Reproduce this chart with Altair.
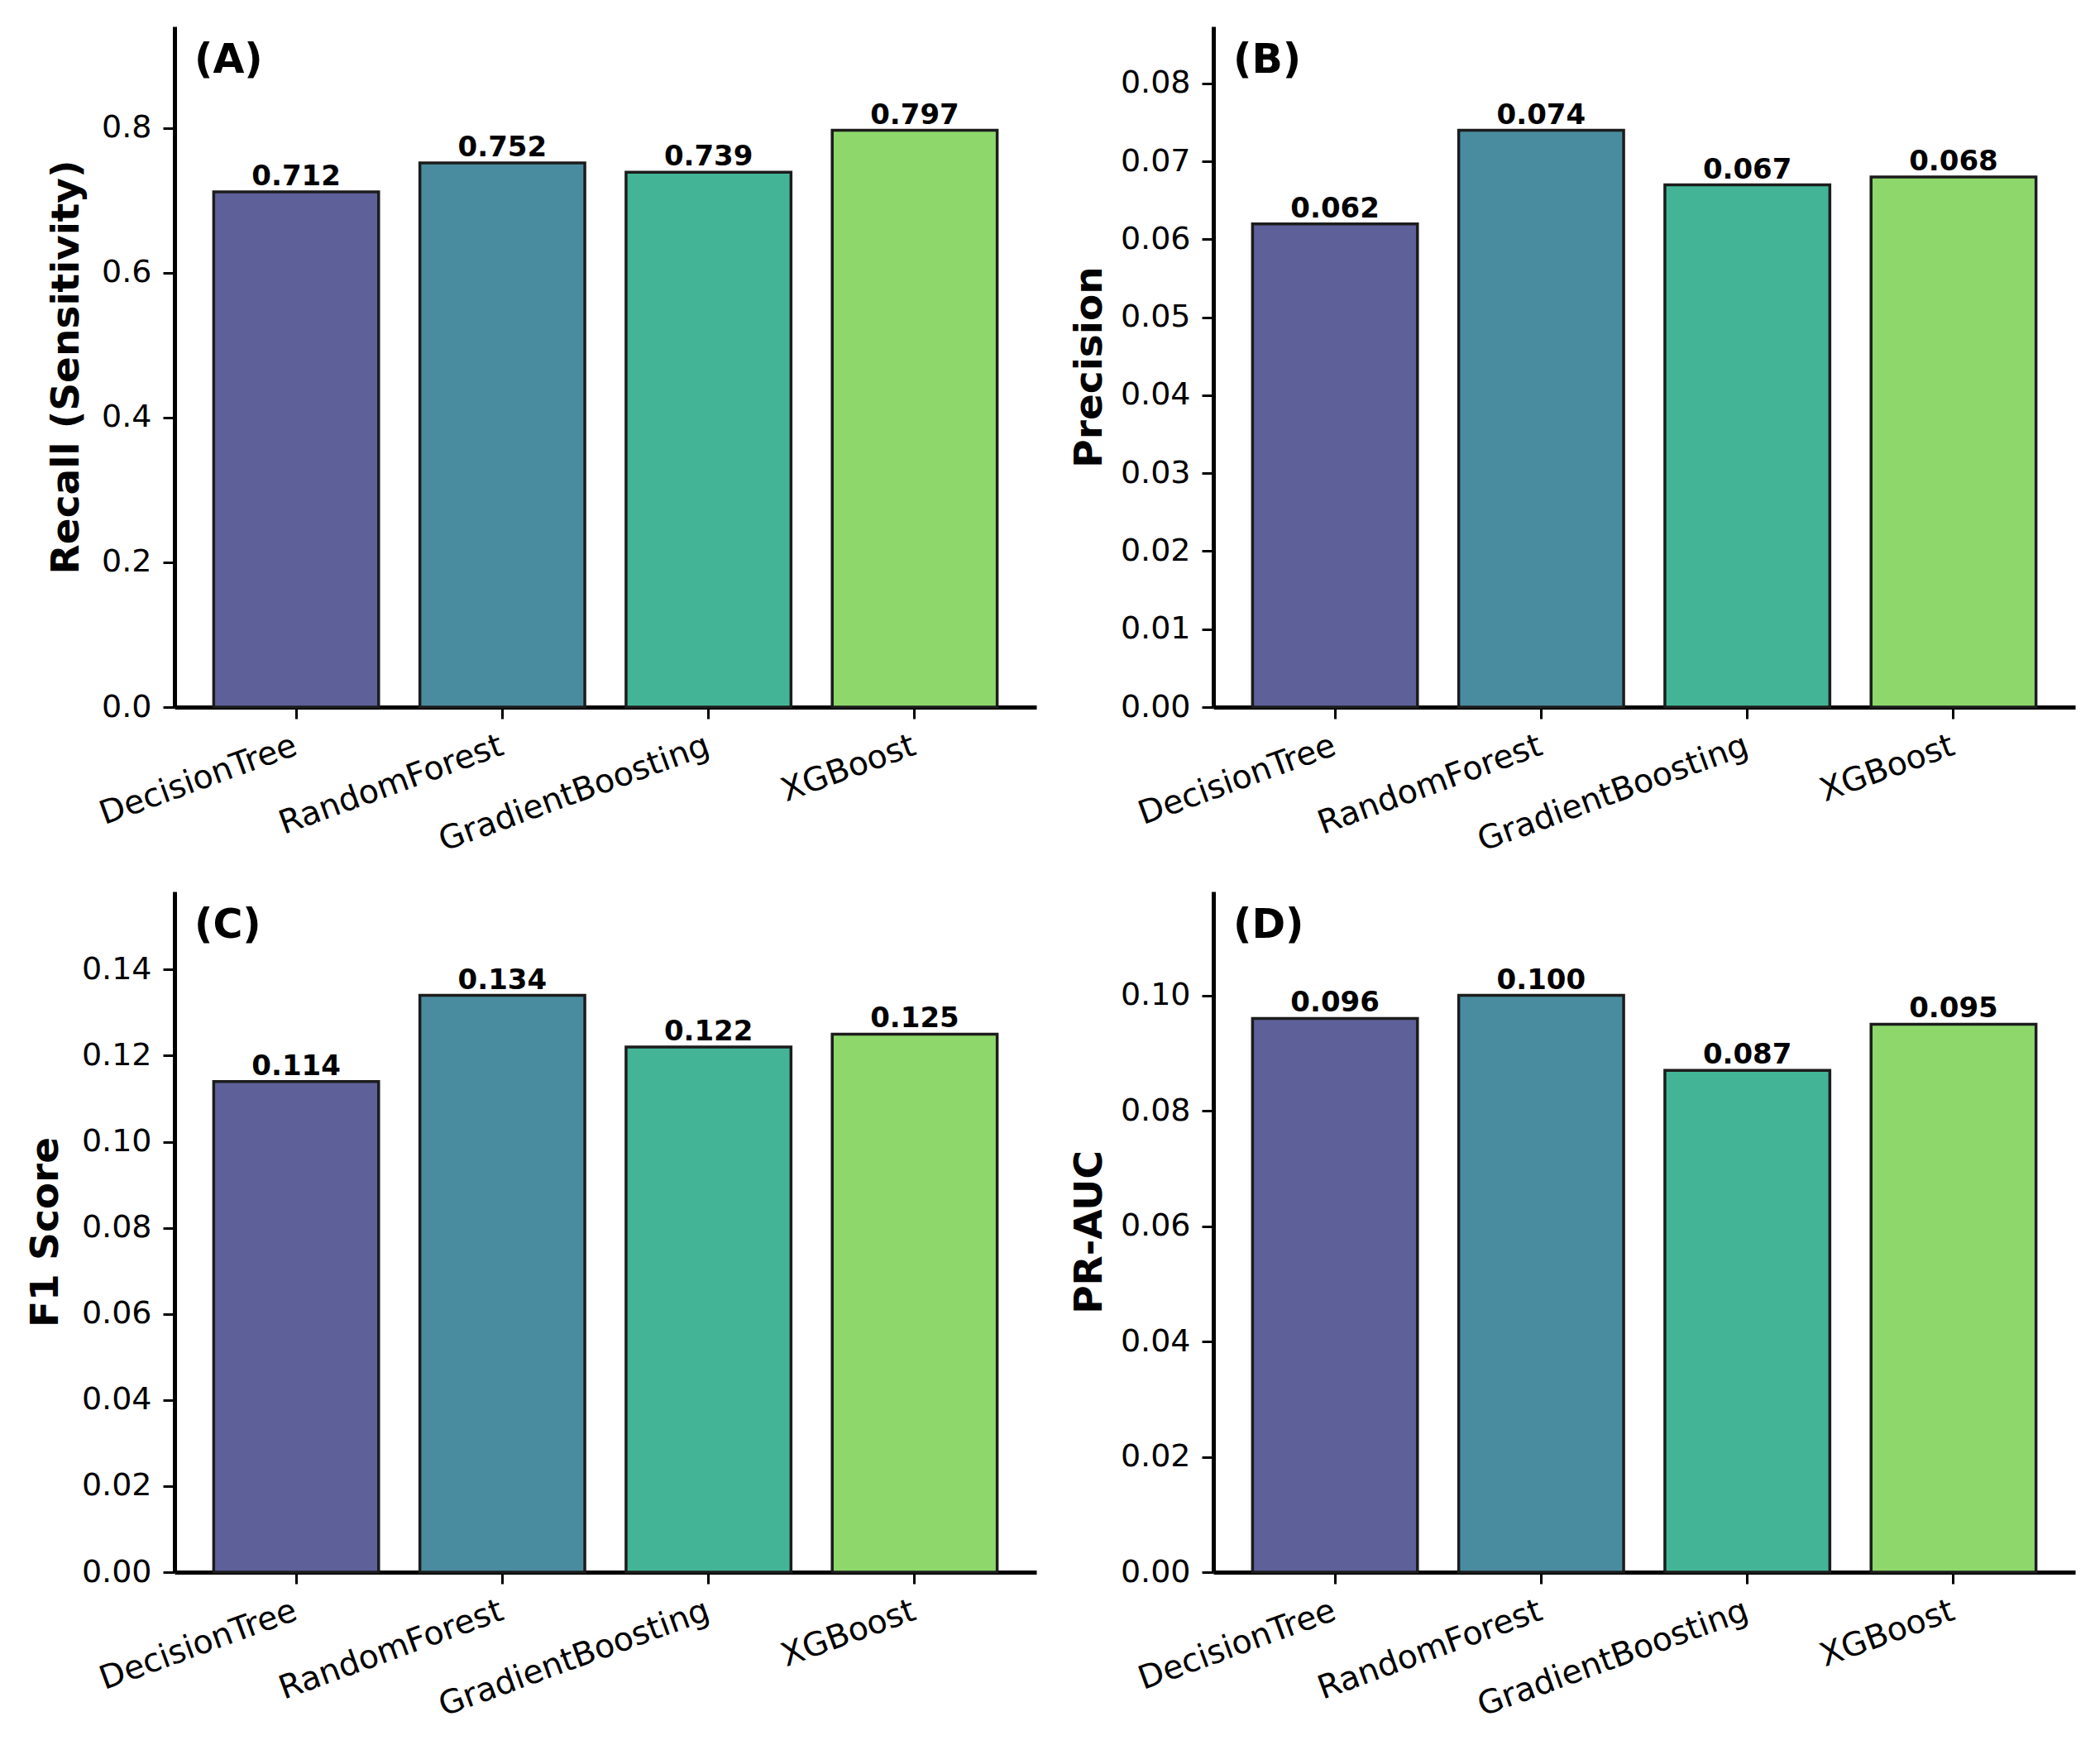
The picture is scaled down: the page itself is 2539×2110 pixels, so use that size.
import altair as alt
import pandas as pd

models = ["DecisionTree", "RandomForest", "GradientBoosting", "XGBoost"]
colors = ["#5d6099", "#4a8c9f", "#43b596", "#8ed86b"]

recall = [0.712, 0.752, 0.739, 0.797]
precision = [0.062, 0.074, 0.067, 0.068]
f1 = [0.114, 0.134, 0.122, 0.125]
pr_auc = [0.096, 0.100, 0.087, 0.095]

letters = ["(A)", "(B)", "(C)", "(D)"]
titles = ["Recall (Sensitivity)", "Precision", "F1 Score", "PR-AUC"]
ticks_a = [0.0, 0.2, 0.4, 0.6, 0.8]
ticks_b = [0.00, 0.01, 0.02, 0.03, 0.04, 0.05, 0.06, 0.07, 0.08]
ticks_c = [0.00, 0.02, 0.04, 0.06, 0.08, 0.10, 0.12, 0.14]
ticks_d = [0.00, 0.02, 0.04, 0.06, 0.08, 0.10]
formats = [".1f", ".2f", ".2f", ".2f"]

FONT = "DejaVu Sans"
W, H = 1042, 823


def panel(values, letter, title, ticks, fmt, tpad):
    df = pd.DataFrame({
        "model": models,
        "value": values,
        "label": [f"{v:.3f}" for v in values],
    })
    ymax = max(values) * 1.18
    xenc = alt.X(
        "model:N", sort=models,
        scale=alt.Scale(paddingInner=0.2, paddingOuter=0.19),
        axis=alt.Axis(title=None, labelAngle=-20, labelAlign="right",
                      labelBaseline="top", labelPadding=13, labelOffset=-7,
                      labelFontSize=39.5, tickSize=14,
                      tickWidth=3, domainWidth=5, labelLimit=1000),
    )
    yenc = alt.Y(
        "value:Q",
        scale=alt.Scale(domain=[0, ymax], nice=False, zero=True),
        axis=alt.Axis(title=title, values=ticks, format=fmt,
                      titlePadding=tpad, labelPadding=14, tickSize=14,
                      tickWidth=3, domainWidth=5),
    )
    bars = alt.Chart(df).mark_bar(stroke="#1c1c1c", strokeWidth=3.5).encode(
        x=xenc, y=yenc,
        color=alt.Color("model:N", scale=alt.Scale(domain=models, range=colors),
                        legend=None),
    )
    text = alt.Chart(df).mark_text(
        font=FONT, fontWeight="bold", fontSize=34, baseline="alphabetic",
        dy=-8, color="black",
    ).encode(
        x=alt.X("model:N", sort=models), y="value:Q", text="label:N"
    )
    lt = alt.Chart(pd.DataFrame({"t": [letter]})).mark_text(
        font=FONT, fontWeight="bold", fontSize=49, align="left",
        baseline="middle", color="black",
    ).encode(x=alt.value(24), y=alt.value(41), text="t:N")
    return alt.layer(bars, text, lt).properties(width=W, height=H)


pa = panel(recall, letters[0], titles[0], ticks_a, formats[0], 18)
pb = panel(precision, letters[1], titles[1], ticks_b, formats[1], 13)
pc = panel(f1, letters[2], titles[2], ticks_c, formats[2], 19)
pd_ = panel(pr_auc, letters[3], titles[3], ticks_d, formats[3], 13)

chart = alt.concat(
    pa, pb, pc, pd_, columns=2,
    spacing=alt.RowColnumber(row=223, column=214),
    bounds="flush",
).properties(
    padding={"left": 23, "top": 24, "right": 5, "bottom": 5}
).configure_view(stroke=None).configure_axis(
    labelFont=FONT, titleFont=FONT, labelFontSize=38, titleFontSize=47,
    titleFontWeight="bold", labelColor="black", titleColor="black",
    domainColor="black", tickColor="black", grid=False,
)

chart.save("out.html", embed_options={"renderer": "svg", "actions": False})
